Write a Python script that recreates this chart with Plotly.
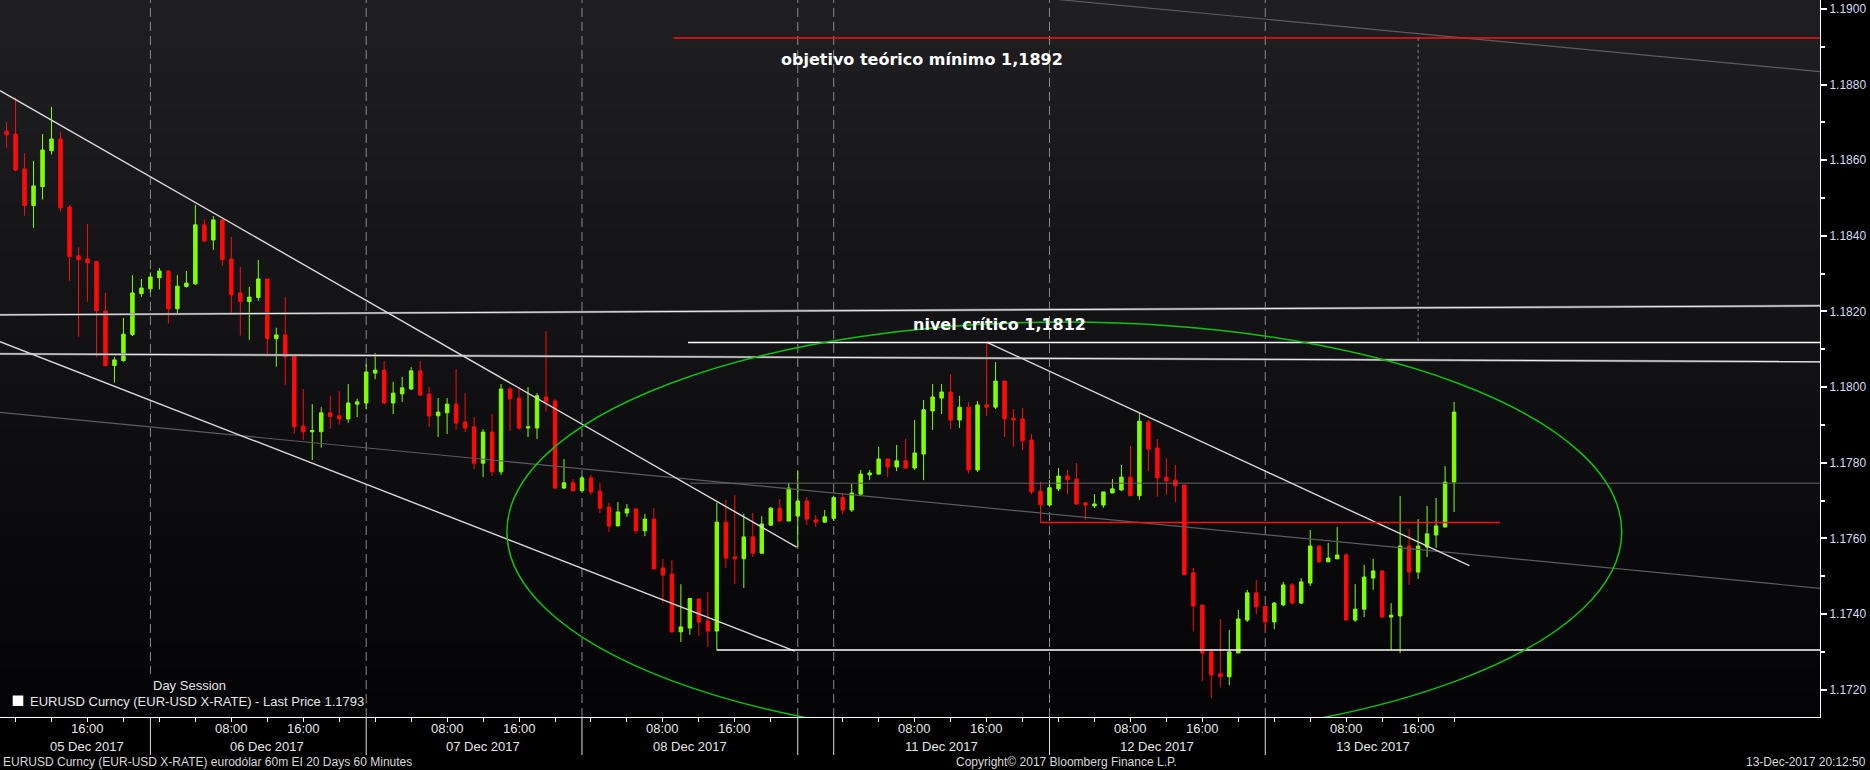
import plotly.graph_objects as go

# EURUSD 60 minute bars, 05-13 Dec 2017. x = bar index (Bloomberg skips the weekend)
opens = [1.18677, 1.18669, 1.18577, 1.18480, 1.18530, 1.18625, 1.18656, 1.18476, 1.18347, 1.18339,
         1.18332, 1.18201, 1.18057, 1.18070, 1.18139, 1.18247, 1.18260, 1.18289, 1.18307, 1.18207,
         1.18266, 1.18273, 1.18429, 1.18389, 1.18442, 1.18339, 1.18249, 1.18226, 1.18237, 1.18286,
         1.18128, 1.18138, 1.18083, 1.17897, 1.17882, 1.17882, 1.17932, 1.17924, 1.17916, 1.17955,
         1.17958, 1.18037, 1.18045, 1.17958, 1.17982, 1.17995, 1.18043, 1.17982, 1.17924, 1.17932,
         1.17955, 1.17908, 1.17895, 1.17799, 1.17881, 1.17776, 1.17995, 1.17971, 1.17892, 1.17892,
         1.17974, 1.17963, 1.17733, 1.17747, 1.17726, 1.17760, 1.17725, 1.17683, 1.17633, 1.17667,
         1.17678, 1.17620, 1.17651, 1.17522, 1.17506, 1.17353, 1.17363, 1.17440, 1.17382, 1.17355,
         1.17643, 1.17551, 1.17546, 1.17604, 1.17561, 1.17635, 1.17680, 1.17646, 1.17659, 1.17699,
         1.17649, 1.17643, 1.17653, 1.17708, 1.17675, 1.17717, 1.17768, 1.17770, 1.17810, 1.17789,
         1.17805, 1.17786, 1.17823, 1.17937, 1.17971, 1.17987, 1.17913, 1.17947, 1.17781, 1.17953,
         1.17947, 1.18016, 1.17918, 1.17916, 1.17860, 1.17725, 1.17688, 1.17731, 1.17765, 1.17757,
         1.17694, 1.17686, 1.17688, 1.17720, 1.17728, 1.17762, 1.17713, 1.17908, 1.17839, 1.17762,
         1.17754, 1.17741, 1.17509, 1.17424, 1.17300, 1.17242, 1.17234, 1.17297, 1.17384, 1.17456,
         1.17421, 1.17379, 1.17424, 1.17477, 1.17429, 1.17482, 1.17580, 1.17538, 1.17546, 1.17556,
         1.17384, 1.17413, 1.17495, 1.17514, 1.17392, 1.17395, 1.17580, 1.17511, 1.17577, 1.17609,
         1.17630, 1.17749]
highs = [1.18701, 1.18766, 1.18618, 1.18598, 1.18669, 1.18741, 1.18675, 1.18481, 1.18370, 1.18431,
         1.18334, 1.18249, 1.18080, 1.18183, 1.18296, 1.18286, 1.18303, 1.18315, 1.18310, 1.18296,
         1.18307, 1.18482, 1.18444, 1.18452, 1.18444, 1.18397, 1.18318, 1.18265, 1.18336, 1.18286,
         1.18157, 1.18238, 1.18083, 1.17995, 1.17955, 1.17947, 1.17977, 1.17990, 1.18008, 1.17969,
         1.18061, 1.18090, 1.18069, 1.18014, 1.18027, 1.18053, 1.18069, 1.18000, 1.17971, 1.17971,
         1.18048, 1.17984, 1.17921, 1.17889, 1.17929, 1.18008, 1.18000, 1.17995, 1.18000, 1.17984,
         1.18148, 1.17969, 1.17810, 1.17757, 1.17765, 1.17768, 1.17747, 1.17694, 1.17696, 1.17691,
         1.17678, 1.17665, 1.17680, 1.17546, 1.17543, 1.17479, 1.17442, 1.17440, 1.17458, 1.17694,
         1.17702, 1.17715, 1.17665, 1.17667, 1.17659, 1.17683, 1.17704, 1.17747, 1.17778, 1.17709,
         1.17662, 1.17675, 1.17713, 1.17719, 1.17744, 1.17781, 1.17781, 1.17842, 1.17810, 1.17847,
         1.17863, 1.17913, 1.17966, 1.18008, 1.18008, 1.18035, 1.17977, 1.17961, 1.17963, 1.18119,
         1.18066, 1.18016, 1.17942, 1.17945, 1.17876, 1.17749, 1.17754, 1.17786, 1.17781, 1.17799,
         1.17696, 1.17717, 1.17723, 1.17757, 1.17794, 1.17844, 1.17932, 1.17913, 1.17863, 1.17813,
         1.17794, 1.17741, 1.17522, 1.17424, 1.17308, 1.17387, 1.17358, 1.17411, 1.17464, 1.17490,
         1.17421, 1.17432, 1.17485, 1.17482, 1.17495, 1.17622, 1.17580, 1.17588, 1.17630, 1.17561,
         1.17479, 1.17530, 1.17546, 1.17516, 1.17429, 1.17712, 1.17625, 1.17651, 1.17686, 1.17707,
         1.17791, 1.17961]
lows = [1.18633, 1.18571, 1.18453, 1.18421, 1.18496, 1.18615, 1.18464, 1.18281, 1.18133, 1.18226,
        1.18080, 1.18054, 1.18012, 1.18067, 1.18135, 1.18239, 1.18250, 1.18258, 1.18168, 1.18193,
        1.18263, 1.18270, 1.18384, 1.18363, 1.18321, 1.18197, 1.18136, 1.18125, 1.18228, 1.18088,
        1.18054, 1.18006, 1.17877, 1.17860, 1.17807, 1.17840, 1.17890, 1.17901, 1.17906, 1.17921,
        1.17941, 1.18021, 1.17955, 1.17929, 1.17961, 1.17992, 1.17976, 1.17895, 1.17868, 1.17876,
        1.17887, 1.17881, 1.17783, 1.17762, 1.17765, 1.17768, 1.17884, 1.17887, 1.17868, 1.17863,
        1.17935, 1.17731, 1.17731, 1.17724, 1.17724, 1.17715, 1.17667, 1.17617, 1.17633, 1.17657,
        1.17612, 1.17606, 1.17519, 1.17429, 1.17350, 1.17326, 1.17345, 1.17342, 1.17313, 1.17305,
        1.17522, 1.17479, 1.17469, 1.17551, 1.17559, 1.17633, 1.17646, 1.17646, 1.17576, 1.17635,
        1.17630, 1.17641, 1.17646, 1.17665, 1.17670, 1.17715, 1.17754, 1.17768, 1.17762, 1.17778,
        1.17783, 1.17781, 1.17754, 1.17887, 1.17929, 1.17889, 1.17892, 1.17771, 1.17776, 1.17924,
        1.17942, 1.17868, 1.17842, 1.17834, 1.17717, 1.17642, 1.17688, 1.17725, 1.17717, 1.17688,
        1.17649, 1.17680, 1.17681, 1.17720, 1.17725, 1.17713, 1.17702, 1.17778, 1.17710, 1.17715,
        1.17696, 1.17504, 1.17355, 1.17223, 1.17178, 1.17207, 1.17212, 1.17297, 1.17379, 1.17400,
        1.17353, 1.17360, 1.17421, 1.17426, 1.17426, 1.17474, 1.17535, 1.17538, 1.17546, 1.17384,
        1.17379, 1.17392, 1.17464, 1.17392, 1.17305, 1.17297, 1.17477, 1.17493, 1.17551, 1.17575,
        1.17630, 1.17670]
closes = [1.18667, 1.18574, 1.18480, 1.18532, 1.18627, 1.18656, 1.18474, 1.18345, 1.18337, 1.18329,
          1.18202, 1.18057, 1.18072, 1.18140, 1.18249, 1.18262, 1.18291, 1.18307, 1.18207, 1.18267,
          1.18275, 1.18429, 1.18386, 1.18442, 1.18337, 1.18244, 1.18226, 1.18238, 1.18286, 1.18128,
          1.18138, 1.18080, 1.17895, 1.17882, 1.17885, 1.17932, 1.17922, 1.17916, 1.17958, 1.17961,
          1.18040, 1.18045, 1.17958, 1.17984, 1.17998, 1.18043, 1.17979, 1.17924, 1.17934, 1.17955,
          1.17905, 1.17892, 1.17799, 1.17881, 1.17776, 1.17995, 1.17969, 1.17892, 1.17895, 1.17977,
          1.17961, 1.17733, 1.17747, 1.17726, 1.17760, 1.17723, 1.17680, 1.17633, 1.17670, 1.17678,
          1.17620, 1.17651, 1.17519, 1.17503, 1.17353, 1.17366, 1.17441, 1.17379, 1.17355, 1.17643,
          1.17548, 1.17546, 1.17604, 1.17561, 1.17638, 1.17680, 1.17646, 1.17733, 1.17699, 1.17651,
          1.17643, 1.17657, 1.17708, 1.17675, 1.17720, 1.17770, 1.17773, 1.17810, 1.17789, 1.17805,
          1.17786, 1.17826, 1.17940, 1.17974, 1.17987, 1.17913, 1.17947, 1.17781, 1.17953, 1.17947,
          1.18016, 1.17916, 1.17913, 1.17858, 1.17723, 1.17689, 1.17734, 1.17765, 1.17755, 1.17691,
          1.17688, 1.17691, 1.17723, 1.17731, 1.17762, 1.17713, 1.17910, 1.17836, 1.17760, 1.17752,
          1.17739, 1.17504, 1.17421, 1.17297, 1.17239, 1.17234, 1.17300, 1.17387, 1.17456, 1.17419,
          1.17379, 1.17429, 1.17477, 1.17429, 1.17485, 1.17580, 1.17538, 1.17548, 1.17556, 1.17384,
          1.17413, 1.17498, 1.17514, 1.17392, 1.17397, 1.17580, 1.17511, 1.17580, 1.17612, 1.17633,
          1.17749, 1.17934]
bars = list(range(len(opens)))

# session breaks (23:00 bar) and axis labels
day_breaks = [16, 40, 64, 88, 92, 116, 140]
day_label_pos = [9, 29, 53, 76, 104, 128, 152]
day_labels = ["05 Dec 2017", "06 Dec 2017", "07 Dec 2017", "08 Dec 2017",
              "11 Dec 2017", "12 Dec 2017", "13 Dec 2017"]
hour_label_pos = [9, 25, 33, 49, 57, 73, 81, 101, 109, 125, 133, 149, 157]
hour_labels = ["16:00", "08:00", "16:00", "08:00", "16:00", "08:00", "16:00",
               "08:00", "16:00", "08:00", "16:00", "08:00", "16:00"]
hour_tick_pos = [1, 5, 9, 13] + [b + k for b in [16, 40, 64, 92, 116, 140] for k in (1, 5, 9, 13, 17, 21)]
price_ticks = [1.172, 1.174, 1.176, 1.178, 1.180, 1.182, 1.184, 1.186, 1.188, 1.190]

# hand drawn studies (bar index, price)
down_trend_x, down_trend_y = [-0.73, 87.87], [1.18784, 1.17577]
channel_low_x, channel_low_y = [-0.73, 87.67], [1.18120, 1.17302]
res_trend_x, res_trend_y = [109, 162.7], [1.18119, 1.17528]
band_hi_x, band_hi_y = [-0.73, 201.7], [1.18191, 1.18215]
band_lo_x, band_lo_y = [-0.73, 201.7], [1.18088, 1.18067]
long_gray_x, long_gray_y = [-0.73, 201.7], [1.17933, 1.17468]
top_gray_x, top_gray_y = [112, 201.7], [1.19036, 1.18834]
mid_gray_x, mid_gray_y = [76.0, 201.7], [1.17746, 1.17746]
support_x, support_y = [79, 201.7], [1.17305, 1.17305]
critical_x, critical_y = [75.8, 201.7], [1.18118, 1.18118]
target_x, target_y = [74.2, 201.7], [1.18923, 1.18923]
red_level_x, red_level_y = [115, 166.1], [1.17642, 1.17642]
dotted_x, dotted_y = [157, 157], [1.18923, 1.18118]
ellipse_x, ellipse_y = [55.65, 179.65], [1.17063, 1.18172]

X_RANGE = [-0.73, 201.7]
Y_RANGE = [1.171278, 1.190235]
PLOT_H = 717.0
PLOT_W = 1820.0
FONT = "Liberation Sans, Arial, sans-serif"
BOLD = "DejaVu Sans, Verdana, sans-serif"


def py(px):
    return (PLOT_H - px) / PLOT_H


fig = go.Figure()

fig.add_trace(go.Candlestick(
    x=bars, open=opens, high=highs, low=lows, close=closes,
    increasing=dict(line=dict(color="#80ff00", width=1), fillcolor="#80ff00"),
    decreasing=dict(line=dict(color="#ff0a0a", width=1), fillcolor="#ff0a0a"),
    hoverinfo="skip", showlegend=False,
))


def add_line(xs, ys, color, width, dash="solid"):
    fig.add_trace(go.Scatter(x=xs, y=ys, mode="lines", hoverinfo="skip", showlegend=False,
                             line=dict(color=color, width=width, dash=dash)))


add_line(long_gray_x, long_gray_y, "#5c5c60", 1.2)
add_line(top_gray_x, top_gray_y, "#5c5c60", 1.2)
add_line(mid_gray_x, mid_gray_y, "#66666a", 1)
add_line(band_hi_x, band_hi_y, "#6e6e70", 2.4)
add_line(band_hi_x, band_hi_y, "#eeeeee", 1)
add_line(band_lo_x, band_lo_y, "#6e6e70", 2.4)
add_line(band_lo_x, band_lo_y, "#eeeeee", 1)
add_line(down_trend_x, down_trend_y, "#d8d8d8", 1.4)
add_line(channel_low_x, channel_low_y, "#d8d8d8", 1.4)
add_line(res_trend_x, res_trend_y, "#d8d8d8", 1.4)
add_line(support_x, support_y, "#ffffff", 1.4)
add_line(critical_x, critical_y, "#ffffff", 1.4)
add_line(target_x, target_y, "#ff1010", 1.4)
add_line(red_level_x, red_level_y, "#ff1010", 1.4)
add_line(dotted_x, dotted_y, "#808080", 1, "dot")

shapes = []
# background gradient
N = 60
for k in range(N):
    v = 4 + 28 * ((k + 0.5) / N)
    c = "rgb(%d,%d,%d)" % (v, v, v + 3)
    shapes.append(dict(type="rect", xref="paper", yref="paper", x0=0, x1=1,
                       y0=k / N, y1=(k + 1) / N + 0.002, fillcolor=c, line_width=0, layer="below"))
# session separators
for b in day_breaks:
    shapes.append(dict(type="line", xref="x", yref="paper", x0=b, x1=b, y0=0, y1=1,
                       line=dict(color="#8a8a8a", width=1, dash="9px,5px"), layer="below"))
    shapes.append(dict(type="line", xref="x", yref="paper", x0=b, x1=b, y0=py(755), y1=0,
                       line=dict(color="#e0e0e0", width=1)))
# legend box
shapes.append(dict(type="rect", xref="paper", yref="paper", x0=0, x1=364 / PLOT_W,
                   y0=0, y1=py(674), fillcolor="rgb(5,5,8)", line_width=0, layer="below"))
shapes.append(dict(type="rect", xref="paper", yref="paper", x0=12.7 / PLOT_W, x1=23.3 / PLOT_W,
                   y0=py(706), y1=py(695.5), fillcolor="#ffffff", line_width=0))
# ellipse
shapes.append(dict(type="circle", xref="x", yref="y", x0=ellipse_x[0], x1=ellipse_x[1],
                   y0=ellipse_y[0], y1=ellipse_y[1], line=dict(color="#10c010", width=1.5)))

axis_font = dict(size=13, color="#e6e6e6", family=FONT)
ann = []
for pos, lab in zip(hour_label_pos, hour_labels):
    ann.append(dict(x=pos, y=py(728), xref="x", yref="paper", text=lab, showarrow=False,
                    font=axis_font, xanchor="center", yanchor="middle"))
for pos, lab in zip(day_label_pos, day_labels):
    ann.append(dict(x=pos, y=py(746), xref="x", yref="paper", text=lab, showarrow=False,
                    font=axis_font, xanchor="center", yanchor="middle"))
foot = dict(size=12, color="#d8d8d8", family=FONT)
ann += [
    dict(x=0.0005, y=py(762), xref="paper", yref="paper", xanchor="left", yanchor="middle", showarrow=False,
         text="EURUSD Curncy (EUR-USD X-RATE) eurodólar 60m EI 20 Days 60 Minutes", font=foot),
    dict(x=1066 / PLOT_W, y=py(762), xref="paper", yref="paper", xanchor="center", yanchor="middle",
         showarrow=False, text="Copyright© 2017 Bloomberg Finance L.P.", font=foot),
    dict(x=1868 / PLOT_W, y=py(762), xref="paper", yref="paper", xanchor="right", yanchor="middle",
         showarrow=False, text="13-Dec-2017 20:12:50", font=foot),
    dict(x=151 / PLOT_W, y=py(685), xref="paper", yref="paper", xanchor="left", yanchor="middle",
         showarrow=False, text="Day Session", font=axis_font),
    dict(x=28 / PLOT_W, y=py(701), xref="paper", yref="paper", xanchor="left", yanchor="middle",
         showarrow=False, text="EURUSD Curncy (EUR-USD X-RATE) - Last Price 1.1793", font=axis_font),
    dict(x=101.8, y=1.18865, xref="x", yref="y", showarrow=False,
         text="<b>objetivo teórico mínimo 1,1892</b>", font=dict(size=16, color="#ffffff", family=BOLD)),
    dict(x=110.4, y=1.18166, xref="x", yref="y", showarrow=False,
         text="<b>nivel crítico 1,1812</b>", font=dict(size=16, color="#ffffff", family=BOLD)),
]

fig.update_layout(
    width=1870, height=770, autosize=False,
    margin=dict(l=0, r=50, t=0, b=53),
    paper_bgcolor="#000000", plot_bgcolor="#000000",
    boxgap=0.45, showlegend=False,
    shapes=shapes, annotations=ann,
    xaxis=dict(range=X_RANGE, showgrid=False, zeroline=False, showline=True, linecolor="#ffffff",
               linewidth=1, ticks="outside", ticklen=4, tickcolor="#ffffff", tickvals=hour_tick_pos,
               showticklabels=False, rangeslider=dict(visible=False), fixedrange=True),
    yaxis=dict(range=Y_RANGE, side="right", showgrid=False, zeroline=False, showline=True,
               linecolor="#ffffff", linewidth=1, ticks="outside", ticklen=6, tickwidth=2,
               tickcolor="#ffffff", tickvals=price_ticks, tickformat=".4f",
               tickfont=dict(size=12, color="#d4dcf4", family=FONT),
               minor=dict(dtick=0.001, ticks="outside", ticklen=4, tickcolor="#ffffff"),
               fixedrange=True),
)

fig.write_html("out.html", config={"displayModeBar": False},
               post_script="document.body.style.margin='0';document.body.style.overflow='hidden';")
